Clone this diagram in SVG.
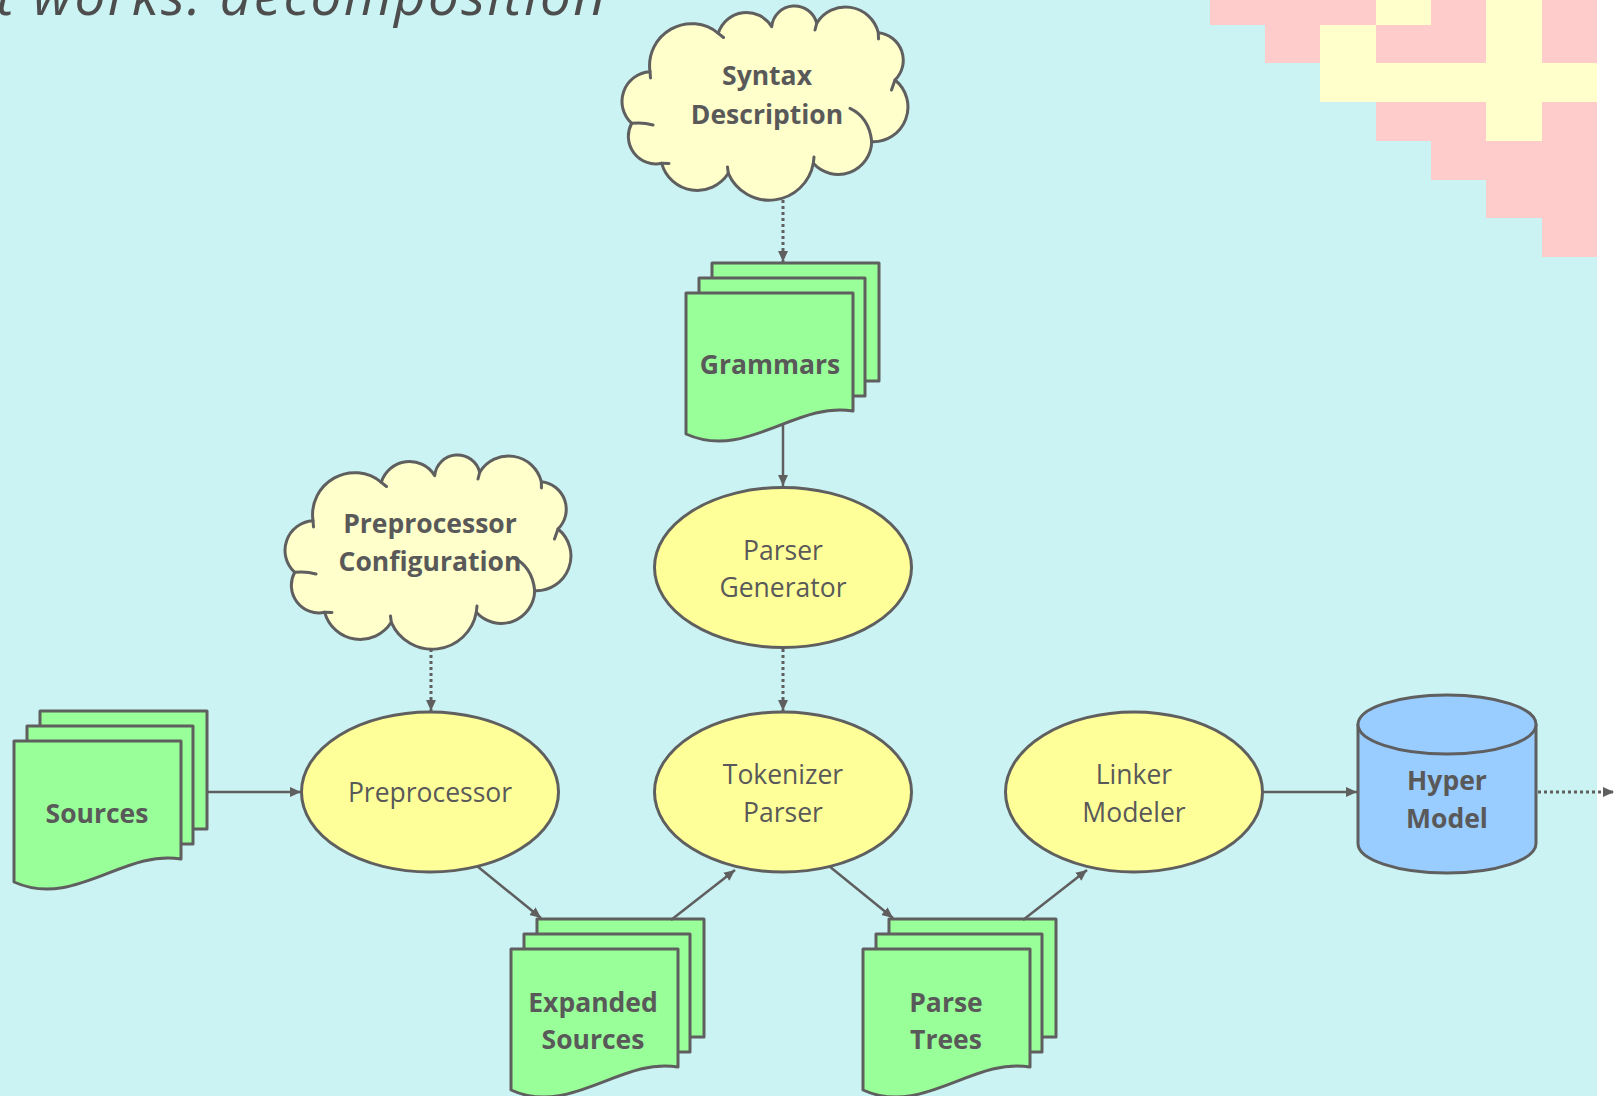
<svg xmlns="http://www.w3.org/2000/svg" xmlns:xlink="http://www.w3.org/1999/xlink" width="1618" height="1096" viewBox="0 0 1618 1096">
<style>
.bg{fill:#CCF3F3}
.pink{fill:#FFCCCC}
.yel{fill:#FFFFCC}
.shape{stroke:#5F5F5F;stroke-width:3;stroke-linejoin:round}
.doc{fill:#99FF99}
.proc{fill:#FFFF99}
.db{fill:#99CCFF}
.cloud{fill:#FFFFCC}
.tick{fill:none;stroke:#5F5F5F;stroke-width:3;stroke-linecap:round}
.lbl{font-family:"Open Sans","Noto Sans",sans-serif;font-size:26.5px;fill:#595959;text-anchor:middle}
.b{font-weight:bold}
.title{font-family:"Open Sans","Noto Sans",sans-serif;font-style:italic;font-size:55px;fill:#4D4D4D}
.conn{fill:none;stroke:#5F5F5F;stroke-width:2.5}
.dot{stroke-dasharray:3 3;stroke-width:3}
</style>
<defs>
<marker id="arr" viewBox="0 0 10 10" refX="10" refY="5" markerWidth="11" markerHeight="11" markerUnits="userSpaceOnUse" orient="auto">
<path d="M0,0.5 L10,5 L0,9.5 z" fill="#5F5F5F"/>
</marker>
<g id="cloudShape">
<path class="shape cloud" d="M9.7,117.3 A29.7,29.7 0 0 1 28,65.7 A42,42 0 0 1 96.3,27.3 A29.5,29.5 0 0 1 149.7,20.7 A22.9,22.9 0 0 1 194.7,17.3 A33.7,33.7 0 0 1 256.3,26.7 A27.7,27.7 0 0 1 273,74 A34.7,34.7 0 0 1 249.7,135.7 A33.5,33.5 0 0 1 191.3,157.3 A44.7,44.7 0 0 1 106.3,167.3 A36.8,36.8 0 0 1 39.7,157.3 A27.5,27.5 0 0 1 9.7,117.3 Z"/>
<path class="tick" d="M9.7,117.3 Q21,116 31,119 M39.7,157.3 L47,157.5 M106.3,167.3 L105.5,161 M191.3,157.3 L192,151 M228,102.3 C240,108 248,118 249.7,135.7 M273,74 L269.5,84 M256.3,26.7 L256.5,33 M194.7,17.3 L193,24 M96.3,27.3 L101.5,31.5 M28,65.7 L28.5,72"/>
</g>
<g id="docStack">
<rect class="shape doc" x="26" y="-30" width="167" height="118"/>
<rect class="shape doc" x="13" y="-15" width="166" height="118"/>
<path class="shape doc" d="M0,0 H167 V118 C110,108 60,168 0,141 Z"/>
</g>
</defs>

<rect class="bg" x="0" y="0" width="1597" height="1096"/>
<rect x="1597" y="0" width="21" height="1096" fill="#FFFFFF"/>

<g id="decoration">
<path class="pink" d="M1210,0 H1597 V257 H1542 V218 H1486 V180 H1431 V141 H1376 V102 H1320 V63 H1265 V25 H1210 Z"/>
<rect class="yel" x="1376" y="0" width="55" height="25"/>
<rect class="yel" x="1486" y="0" width="56" height="141"/>
<rect class="yel" x="1320" y="25" width="56" height="77"/>
<rect class="yel" x="1320" y="63" width="277" height="39"/>
</g>

<text class="title" x="-4" y="15" textLength="609" lengthAdjust="spacing">t works: decomposition</text>

<g id="syntax-description">
<use href="#cloudShape" xlink:href="#cloudShape" transform="translate(622,6)"/>
<text class="lbl b" x="767" y="85">Syntax</text>
<text class="lbl b" x="767" y="124">Description</text>
</g>

<g id="grammars">
<use href="#docStack" xlink:href="#docStack" transform="translate(686,293)"/>
<text class="lbl b" x="770" y="374">Grammars</text>
</g>

<g id="parser-generator">
<ellipse class="shape proc" cx="783" cy="567.5" rx="128.5" ry="80"/>
<text class="lbl" x="783" y="560">Parser</text>
<text class="lbl" x="783" y="597">Generator</text>
</g>

<g id="preprocessor-configuration">
<use href="#cloudShape" xlink:href="#cloudShape" transform="translate(285,455)"/>
<text class="lbl b" x="430" y="533">Preprocessor</text>
<text class="lbl b" x="430" y="571">Configuration</text>
</g>

<g id="sources">
<use href="#docStack" xlink:href="#docStack" transform="translate(14,741)"/>
<text class="lbl b" x="97" y="823">Sources</text>
</g>

<g id="preprocessor">
<ellipse class="shape proc" cx="430" cy="792" rx="128.5" ry="80"/>
<text class="lbl" x="430" y="802">Preprocessor</text>
</g>

<g id="tokenizer-parser">
<ellipse class="shape proc" cx="783" cy="792" rx="128.5" ry="80"/>
<text class="lbl" x="783" y="784">Tokenizer</text>
<text class="lbl" x="783" y="822">Parser</text>
</g>

<g id="linker-modeler">
<ellipse class="shape proc" cx="1134" cy="792" rx="128.5" ry="80"/>
<text class="lbl" x="1134" y="784">Linker</text>
<text class="lbl" x="1134" y="822">Modeler</text>
</g>

<g id="hyper-model">
<path class="shape db" d="M1358,724.5 V843.5 A89,29.5 0 0 0 1536,843.5 V724.5 Z"/>
<ellipse class="shape db" cx="1447" cy="724.5" rx="89" ry="29.5"/>
<text class="lbl b" x="1447" y="790">Hyper</text>
<text class="lbl b" x="1447" y="828">Model</text>
</g>

<g id="expanded-sources">
<use href="#docStack" xlink:href="#docStack" transform="translate(511,949)"/>
<text class="lbl b" x="593" y="1012">Expanded</text>
<text class="lbl b" x="593" y="1049">Sources</text>
</g>

<g id="parse-trees">
<use href="#docStack" xlink:href="#docStack" transform="translate(863,949)"/>
<text class="lbl b" x="946" y="1012">Parse</text>
<text class="lbl b" x="946" y="1049">Trees</text>
</g>

<g id="connectors">
<line class="conn dot" x1="783" y1="200" x2="783" y2="262" marker-end="url(#arr)"/>
<line class="conn" x1="783" y1="423" x2="783" y2="486" marker-end="url(#arr)"/>
<line class="conn dot" x1="783" y1="649" x2="783" y2="711" marker-end="url(#arr)"/>
<line class="conn dot" x1="431" y1="649" x2="431" y2="711" marker-end="url(#arr)"/>
<line class="conn" x1="208" y1="792" x2="301" y2="792" marker-end="url(#arr)"/>
<line class="conn" x1="477" y1="866" x2="541" y2="918" marker-end="url(#arr)"/>
<line class="conn" x1="671" y1="920" x2="735" y2="870" marker-end="url(#arr)"/>
<line class="conn" x1="829" y1="866" x2="893" y2="918" marker-end="url(#arr)"/>
<line class="conn" x1="1023" y1="920" x2="1087" y2="870" marker-end="url(#arr)"/>
<line class="conn" x1="1263" y1="792" x2="1357" y2="792" marker-end="url(#arr)"/>
<line class="conn dot" x1="1538" y1="792" x2="1614" y2="792" marker-end="url(#arr)"/>
</g>
</svg>
